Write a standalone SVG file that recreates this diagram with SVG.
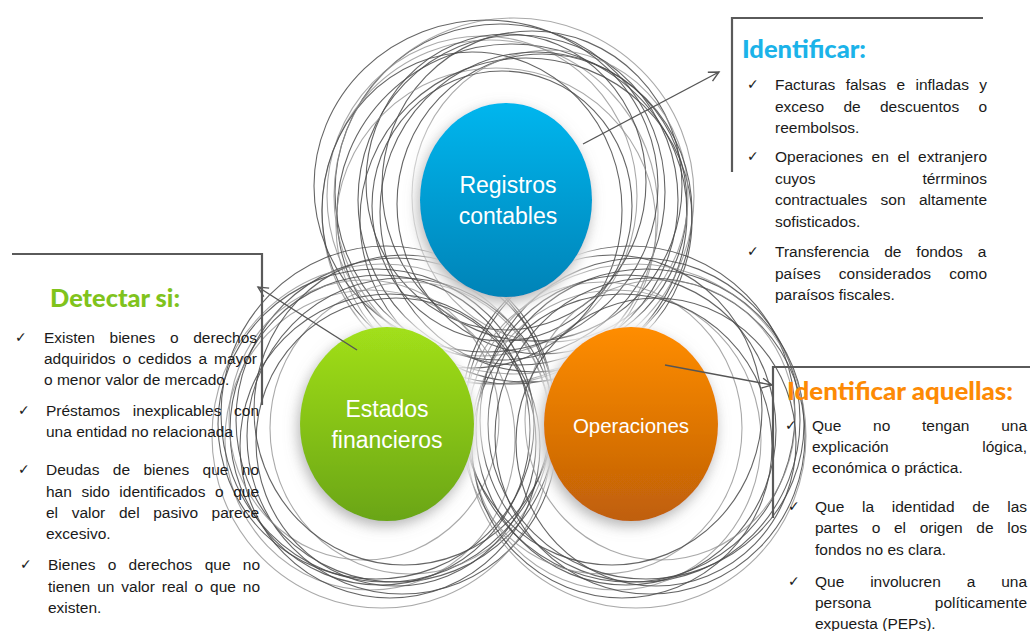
<svg xmlns="http://www.w3.org/2000/svg" width="1030" height="631" viewBox="0 0 1030 631">
<defs>
<style>
.s1{fill:none;stroke:#4a4a4a;stroke-width:1.1;opacity:.85}
.s2{fill:none;stroke:#8c8c8c;stroke-width:1.1;opacity:.75}
.br{fill:none;stroke:#5a5a5a;stroke-width:2.2}
.con{fill:none;stroke:#555;stroke-width:1.4}
.lbl{font-family:"Liberation Sans",Arial,sans-serif;fill:#fff;text-anchor:middle}
.tx{font-family:"Liberation Sans",Arial,sans-serif;font-size:15.5px;fill:#1a1a1a}
.ck{font-family:"DejaVu Sans",sans-serif;font-size:14px;fill:#1a1a1a}
.ttl{font-family:Lato,"Liberation Sans",sans-serif;font-weight:900;font-size:25px}
</style>
<linearGradient id="gb" x1="0" y1="0" x2="0" y2="1"><stop offset="0" stop-color="#00b6ee"/><stop offset="1" stop-color="#0083b7"/></linearGradient>
<linearGradient id="gg" x1="0" y1="0" x2="0" y2="1"><stop offset="0" stop-color="#a2e01a"/><stop offset="1" stop-color="#6aa513"/></linearGradient>
<linearGradient id="go" x1="0" y1="0" x2="0" y2="1"><stop offset="0" stop-color="#ff8d00"/><stop offset="1" stop-color="#bf5f08"/></linearGradient>
<radialGradient id="halo"><stop offset="0.8" stop-color="#fff" stop-opacity="1"/><stop offset="1" stop-color="#fff" stop-opacity="0"/></radialGradient>
<filter id="sh" x="-30%" y="-30%" width="160%" height="160%">
<feGaussianBlur in="SourceAlpha" stdDeviation="7"/>
<feOffset dx="-2" dy="5" result="b"/>
<feFlood flood-color="#777" flood-opacity="0.55"/>
<feComposite in2="b" operator="in"/>
<feMerge><feMergeNode/><feMergeNode in="SourceGraphic"/></feMerge>
</filter>
<marker id="ah" markerWidth="14" markerHeight="14" refX="11" refY="6" orient="auto" markerUnits="userSpaceOnUse">
<path d="M1,1 L11,6 L1,11" fill="none" stroke="#555" stroke-width="1.4"/>
</marker>
</defs>

<g id="scribbles">
<ellipse class="s1" cx="500" cy="192" rx="165" ry="168"/>
<ellipse class="s1" cx="518" cy="200" rx="160" ry="165"/>
<ellipse class="s2" cx="490" cy="212" rx="168" ry="172"/>
<ellipse class="s1" cx="532" cy="186" rx="150" ry="155"/>
<ellipse class="s1" cx="512" cy="214" rx="175" ry="170"/>
<ellipse class="s2" cx="482" cy="196" rx="155" ry="160"/>
<ellipse class="s1" cx="542" cy="204" rx="145" ry="150"/>
<ellipse class="s1" cx="506" cy="182" rx="140" ry="148"/>
<ellipse class="s2" cx="496" cy="226" rx="160" ry="158"/>
<ellipse class="s1" cx="526" cy="220" rx="166" ry="162"/>
<ellipse class="s1" cx="472" cy="210" rx="150" ry="158"/>
<ellipse class="s2" cx="550" cy="196" rx="138" ry="146"/>
<ellipse class="s2" cx="514" cy="196" rx="180" ry="178"/>
<ellipse class="s1" cx="502" cy="206" rx="130" ry="135"/>
<ellipse class="s1" cx="486" cy="186" rx="172" ry="166"/>
<ellipse class="s1" cx="536" cy="212" rx="156" ry="160"/>

<ellipse class="s1" cx="380" cy="430" rx="150" ry="155"/>
<ellipse class="s1" cx="396" cy="420" rx="160" ry="162"/>
<ellipse class="s2" cx="370" cy="440" rx="145" ry="150"/>
<ellipse class="s1" cx="402" cy="436" rx="155" ry="158"/>
<ellipse class="s1" cx="386" cy="414" rx="165" ry="168"/>
<ellipse class="s2" cx="410" cy="428" rx="140" ry="146"/>
<ellipse class="s1" cx="376" cy="424" rx="158" ry="155"/>
<ellipse class="s1" cx="390" cy="446" rx="150" ry="152"/>
<ellipse class="s2" cx="364" cy="420" rx="135" ry="140"/>
<ellipse class="s1" cx="404" cy="410" rx="150" ry="155"/>
<ellipse class="s2" cx="382" cy="436" rx="170" ry="172"/>
<ellipse class="s1" cx="396" cy="442" rx="140" ry="144"/>

<ellipse class="s1" cx="626" cy="430" rx="150" ry="155"/>
<ellipse class="s1" cx="640" cy="420" rx="160" ry="162"/>
<ellipse class="s2" cx="616" cy="440" rx="145" ry="150"/>
<ellipse class="s1" cx="650" cy="436" rx="155" ry="158"/>
<ellipse class="s1" cx="630" cy="414" rx="165" ry="168"/>
<ellipse class="s2" cx="602" cy="428" rx="140" ry="146"/>
<ellipse class="s1" cx="646" cy="424" rx="158" ry="155"/>
<ellipse class="s1" cx="622" cy="446" rx="150" ry="152"/>
<ellipse class="s2" cx="660" cy="420" rx="135" ry="140"/>
<ellipse class="s1" cx="612" cy="410" rx="150" ry="155"/>
<ellipse class="s2" cx="636" cy="436" rx="170" ry="172"/>
<ellipse class="s1" cx="656" cy="442" rx="140" ry="144"/>
</g>

<g id="registros">
<ellipse cx="506" cy="200" rx="106" ry="117" fill="url(#halo)"/>
<ellipse cx="506" cy="200" rx="86" ry="97" fill="url(#gb)" filter="url(#sh)"/>
<text class="lbl" font-size="23" x="508" y="193">Registros</text>
<text class="lbl" font-size="23" x="508" y="224">contables</text>
</g>

<g id="estados">
<ellipse cx="387" cy="424" rx="107" ry="117" fill="url(#halo)"/>
<ellipse cx="387" cy="424" rx="87" ry="97" fill="url(#gg)" filter="url(#sh)"/>
<text class="lbl" font-size="23" x="387" y="417">Estados</text>
<text class="lbl" font-size="23" x="387" y="448">financieros</text>
</g>

<g id="operaciones">
<ellipse cx="631" cy="424" rx="107" ry="117" fill="url(#halo)"/>
<ellipse cx="631" cy="424" rx="87" ry="97" fill="url(#go)" filter="url(#sh)"/>
<text class="lbl" font-size="20.5" x="631" y="433">Operaciones</text>
</g>

<g id="connectors">
<line class="con" x1="583" y1="144" x2="719" y2="72" marker-end="url(#ah)"/>
<line class="con" x1="357" y1="350" x2="258" y2="287" marker-end="url(#ah)"/>
<line class="con" x1="665" y1="365" x2="772" y2="385" marker-end="url(#ah)"/>
</g>

<g id="box-identificar">
<path class="br" d="M732,172 V18 H983"/>
<text class="ttl" x="742" y="58" fill="#1bb3e9" textLength="124" lengthAdjust="spacingAndGlyphs">Identificar:</text>
<text class="ck" x="747" y="89">✓</text>
<text class="tx" x="775" y="90" word-spacing="6.05">Facturas falsas e infladas y</text>
<text class="tx" x="775" y="112" word-spacing="14.96">exceso de descuentos o</text>
<text class="tx" x="775" y="133">reembolsos.</text>
<text class="ck" x="747" y="161">✓</text>
<text class="tx" x="775" y="162" word-spacing="4.33">Operaciones en el extranjero</text>
<text class="tx" x="775" y="184" word-spacing="102.6">cuyos térrminos</text>
<text class="tx" x="775" y="205" word-spacing="9.09">contractuales son altamente</text>
<text class="tx" x="775" y="227">sofisticados.</text>
<text class="ck" x="747" y="256">✓</text>
<text class="tx" x="775" y="257" word-spacing="10.64">Transferencia de fondos a</text>
<text class="tx" x="775" y="279" word-spacing="13.83">países considerados como</text>
<text class="tx" x="775" y="300">paraísos fiscales.</text>
</g>

<g id="box-detectar">
<path class="br" d="M12,254 H262 V405"/>
<text class="ttl" x="50" y="307" fill="#80c31c" textLength="130" lengthAdjust="spacingAndGlyphs">Detectar si:</text>
<text class="ck" x="15" y="342">✓</text>
<text class="tx" x="44" y="343" word-spacing="10.4">Existen bienes o derechos</text>
<text class="tx" x="44" y="364" word-spacing="2.64">adquiridos o cedidos a mayor</text>
<text class="tx" x="44" y="385">o menor valor de mercado.</text>
<text class="ck" x="18" y="415">✓</text>
<text class="tx" x="46" y="416" word-spacing="8.3">Préstamos inexplicables con</text>
<text class="tx" x="46" y="437">una entidad no relacionada</text>
<text class="ck" x="18" y="474">✓</text>
<text class="tx" x="46" y="475" word-spacing="9.09">Deudas de bienes que no</text>
<text class="tx" x="46" y="497" word-spacing="5.21">han sido identificados o que</text>
<text class="tx" x="46" y="518" word-spacing="9.31">el valor del pasivo parece</text>
<text class="tx" x="46" y="539">excesivo.</text>
<text class="ck" x="20" y="569">✓</text>
<text class="tx" x="48" y="570" word-spacing="7.98">Bienes o derechos que no</text>
<text class="tx" x="48" y="592" word-spacing="2.59">tienen un valor real o que no</text>
<text class="tx" x="48" y="613">existen.</text>
</g>

<g id="box-aquellas">
<path class="br" d="M773,518 V367 H1030"/>
<text class="ttl" x="787" y="400" fill="#fd8a04" textLength="226" lengthAdjust="spacingAndGlyphs">Identificar aquellas:</text>
<text class="ck" x="785" y="430">✓</text>
<text class="tx" x="812" y="431" word-spacing="27.43">Que no tengan una</text>
<text class="tx" x="812" y="452" word-spacing="89.23">explicación lógica,</text>
<text class="tx" x="812" y="473">económica o práctica.</text>
<text class="ck" x="788" y="511">✓</text>
<text class="tx" x="815" y="512" word-spacing="13.36">Que la identidad de las</text>
<text class="tx" x="815" y="533" word-spacing="9.32">partes o el origen de los</text>
<text class="tx" x="815" y="555">fondos no es clara.</text>
<text class="ck" x="788" y="586">✓</text>
<text class="tx" x="815" y="587" word-spacing="21.56">Que involucren a una</text>
<text class="tx" x="815" y="608" word-spacing="59.51">persona políticamente</text>
<text class="tx" x="815" y="629">expuesta (PEPs).</text>
</g>
</svg>
